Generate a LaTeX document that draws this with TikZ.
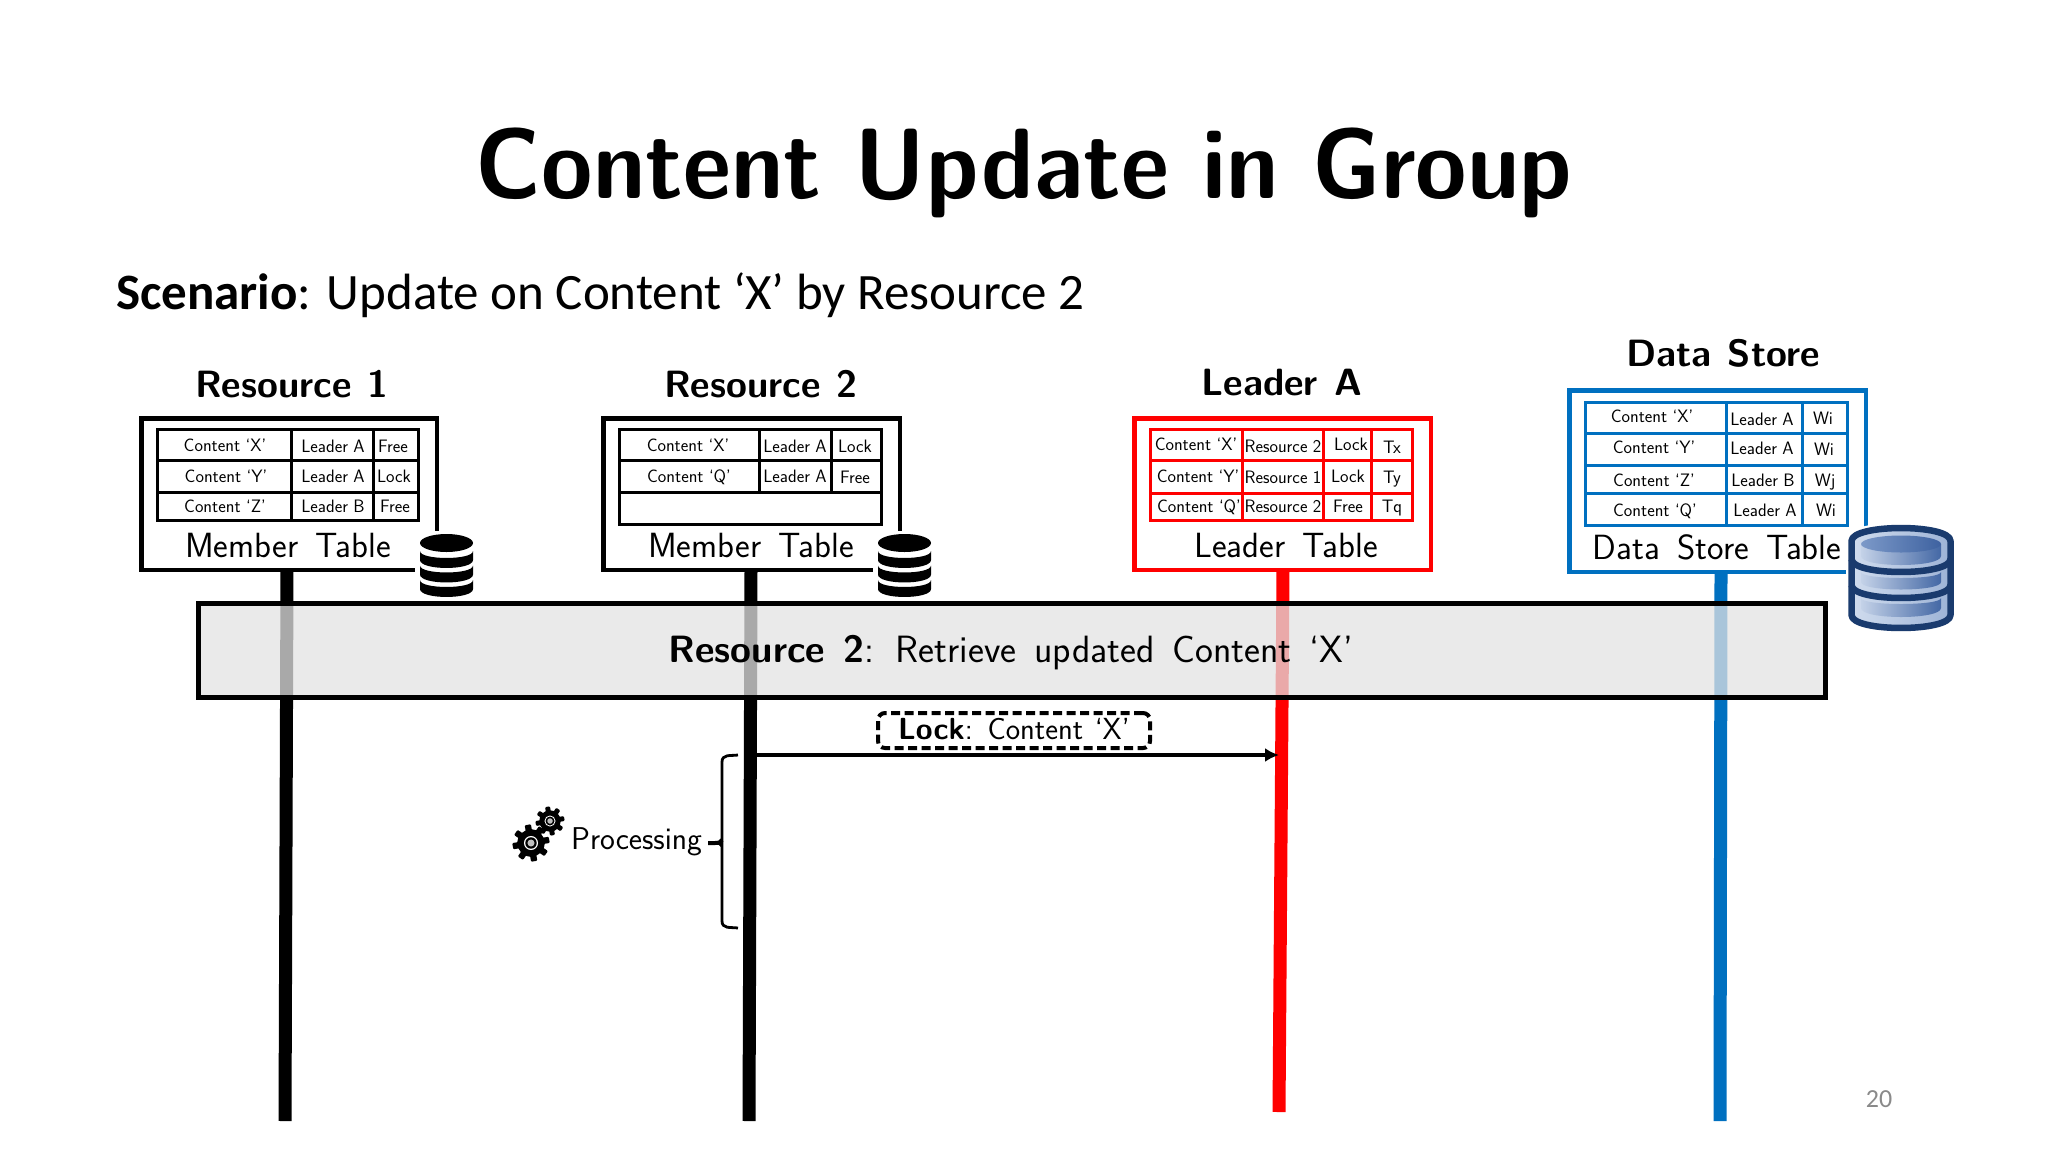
\documentclass[tikz,border=0pt]{standalone}
\usepackage{fontspec}
\usepackage{graphicx}
\newfontfamily\carlito{Carlito}
\usetikzlibrary{arrows.meta}
\definecolor{rblue}{HTML}{0070C0}
\definecolor{navy}{HTML}{1A3B6E}
\definecolor{bandgray}{RGB}{227,227,227}
\definecolor{rimL}{HTML}{D0DCEE}
\definecolor{rimR}{HTML}{9DB3D6}
\definecolor{panL}{HTML}{C4D2E8}
\definecolor{panR}{HTML}{4468A5}
\definecolor{discL}{HTML}{7C99C8}
\definecolor{discR}{HTML}{3E62A0}
\newcommand\sz[2]{\fontsize{#1}{#1}\selectfont\spaceskip=#2em\relax}
\tikzset{
  x=1pt,y=-1pt,
  txt/.style={anchor=base,inner sep=0pt,outer sep=0pt},
  headtxt/.style={txt,font=\sffamily\bfseries\sz{38}{.43}},
  tabletxt/.style={txt,font=\sffamily\sz{35}{.5}},
  celltxt/.style={txt,font=\sffamily\sz{18}{.3}},
  bigbox/.style={draw=#1,line width=4.5pt,fill=white,inner sep=0pt,outer sep=0pt},
  grid/.style={draw=#1,line width=3pt},
  life/.style={draw=#1,line width=13pt},
}
\newcommand\dbblack[1]{%
  \begin{scope}[shift={(#1,0)}]
    \fill[white,rounded corners=6pt] (-31.5,531) rectangle (31.5,600);
    \fill (0,543) ellipse [x radius=26.5,y radius=9];
    \foreach \k in {0,14.5,29}{
      \begin{scope}[shift={(0,\k)}]
        \fill (-26.5,551) .. controls (-26.5,560.3) and (26.5,560.3) .. (26.5,551) -- (26.5,560) .. controls (26.5,570.6) and (-26.5,570.6) .. (-26.5,560) -- cycle;
      \end{scope}
    }
  \end{scope}}
\newcommand\gear[3]{%
  \begin{scope}[shift={(#1,#2)}]
    \fill (0,0) circle [radius=#3*0.74];
    \foreach \a in {0,45,...,315}{
      \fill[rotate=\a+10,rounded corners=1pt] (-#3*0.17,0) rectangle (#3*0.17,#3);
    }
    \fill[white] (0,0) circle [radius=#3*0.38];
    \fill (0,0) circle [radius=#3*0.31];
    \fill[white!75!black] (0,0) circle [radius=#3*0.19];
  \end{scope}}
\begin{document}
\begin{tikzpicture}
\useasboundingbox (0,0) rectangle (2048,1152);
\fill[white] (0,0) rectangle (2048,1152);

% headings
\node[txt,font=\sffamily\bfseries\sz{100}{.36}] (title) at (1024,198) {\scalebox{.935}[1]{Content Update in Group}};
\node[anchor=base west,inner sep=0pt,font=\carlito\fontsize{51}{51}\selectfont] (scen) at (116,309) {\textbf{Scenario}: Update on Content ‘X’ by Resource 2};
\node[headtxt] (h1) at (292,397) {Resource 1};
\node[headtxt] (h2) at (761,397) {Resource 2};
\node[headtxt] (h3) at (1282,395) {Leader A};
\node[headtxt] (h4) at (1723,366) {Data Store};

% lifelines
\coordinate (l1t) at (287,570); \coordinate (l1b) at (285,1121);
\coordinate (l2t) at (751,570); \coordinate (l2b) at (749,1121);
\coordinate (l3t) at (1283,570); \coordinate (l3b) at (1279,1112);
\coordinate (l4t) at (1721,572); \coordinate (l4b) at (1720,1121);
\draw[life=black] (l1t) -- (l1b);
\draw[life=black] (l2t) -- (l2b);
\draw[life=red] (l3t) -- (l3b);
\draw[life=rblue] (l4t) -- (l4b);

% boxes
\node[bigbox=black,minimum width=295.5pt,minimum height=151.5pt] (r1) at (289,494) {};
\node[bigbox=black,minimum width=296.5pt,minimum height=151.5pt] (r2) at (751.5,494) {};
\node[bigbox=red,minimum width=296.5pt,minimum height=151.5pt] (la) at (1282.5,494) {};
\node[bigbox=rblue,minimum width=296.5pt,minimum height=181.5pt] (ds) at (1717.5,481) {};

% table Resource 1
\draw[grid=black] (157.5,429.5) rectangle (418.5,520.5);
\draw[grid=black] (157.5,460) -- (418.5,460) (157.5,492) -- (418.5,492) (291,429.5) -- (291,520.5) (373,429.5) -- (373,520.5);
\node[celltxt] (a1) at (225,451) {Content ‘X’};
\node[celltxt] (a2) at (226,482) {Content ‘Y’};
\node[celltxt] (a3) at (225,512) {Content ‘Z’};
\node[celltxt] (a4) at (333,452) {Leader A};
\node[celltxt] (a5) at (333,482) {Leader A};
\node[celltxt] (a6) at (333,512) {Leader B};
\node[celltxt] (a7) at (393,452) {Free};
\node[celltxt] (a8) at (394,482) {Lock};
\node[celltxt] (a9) at (395,512) {Free};
\node[tabletxt] (t1) at (288,557) {Member Table};

% table Resource 2
\draw[grid=black] (619.5,429.5) rectangle (881,524);
\draw[grid=black] (619.5,460) -- (881,460) (619.5,492) -- (881,492) (759,429.5) -- (759,492) (831,429.5) -- (831,492);
\node[celltxt] (b1) at (688,451) {Content ‘X’};
\node[celltxt] (b2) at (689,482) {Content ‘Q’};
\node[celltxt] (b3) at (795,452) {Leader A};
\node[celltxt] (b4) at (795,482) {Leader A};
\node[celltxt] (b5) at (855,452) {Lock};
\node[celltxt] (b6) at (855,483) {Free};
\node[tabletxt] (t2) at (751,557) {Member Table};

% table Leader A
\draw[grid=red] (1150.5,429.5) rectangle (1412,520.5);
\draw[grid=red] (1150.5,460) -- (1412,460) (1150.5,493) -- (1412,493) (1242,429.5) -- (1242,520.5) (1323,429.5) -- (1323,520.5) (1371,429.5) -- (1371,520.5);
\node[celltxt] (c1) at (1196,450) {Content ‘X’};
\node[celltxt] (c2) at (1198,482) {Content ‘Y’};
\node[celltxt] (c3) at (1199,512) {Content ‘Q’};
\node[celltxt] (c4) at (1283,452) {Resource 2};
\node[celltxt] (c5) at (1283,483) {Resource 1};
\node[celltxt] (c6) at (1283,512) {Resource 2};
\node[celltxt] (c7) at (1351,450) {Lock};
\node[celltxt] (c8) at (1348,482) {Lock};
\node[celltxt] (c9) at (1348,512) {Free};
\node[celltxt] (c10) at (1392,453) {Tx};
\node[celltxt] (c11) at (1392,483) {Ty};
\node[celltxt] (c12) at (1392,512) {Tq};
\node[tabletxt] (t3) at (1286,557) {Leader Table};

% table Data Store
\draw[grid=rblue] (1585.5,402.5) rectangle (1847,525.5);
\draw[grid=rblue] (1585.5,433) -- (1847,433) (1585.5,465) -- (1847,465) (1585.5,493) -- (1847,493) (1726,402.5) -- (1726,525.5) (1802,402.5) -- (1802,525.5);
\node[celltxt] (d1) at (1652,422) {Content ‘X’};
\node[celltxt] (d2) at (1654,453) {Content ‘Y’};
\node[celltxt] (d3) at (1654,486) {Content ‘Z’};
\node[celltxt] (d4) at (1655,516) {Content ‘Q’};
\node[celltxt] (d5) at (1762,425) {Leader A};
\node[celltxt] (d6) at (1762,454) {Leader A};
\node[celltxt] (d7) at (1763,486) {Leader B};
\node[celltxt] (d8) at (1765,516) {Leader A};
\node[celltxt] (d9) at (1823,424) {Wi};
\node[celltxt] (d10) at (1824,455) {Wi};
\node[celltxt] (d11) at (1825,486) {Wj};
\node[celltxt] (d12) at (1826,516) {Wi};
\node[tabletxt] (t4) at (1717,559) {Data Store Table};

% band
\fill[bandgray,fill opacity=.745] (198,603) rectangle (1825,697.5);
\node[draw=black,line width=5pt,inner sep=0pt,outer sep=0pt,minimum width=1627pt,minimum height=94.5pt] (band) at (1011.5,650.25) {};
\node[txt,font=\sffamily\sz{38}{.47}] (bandtxt) at (1011,662) {\textbf{Resource 2}: Retrieve updated Content ‘X’};

% database icons
\dbblack{446.5}
\dbblack{904.5}
\begin{scope}[shift={(1901,0)}]
  \draw[white,line width=11pt] (-49.5,541) .. controls (-49.5,523.7) and (49.5,523.7) .. (49.5,541) -- (49.5,615) .. controls (49.5,632.3) and (-49.5,632.3) .. (-49.5,615) -- cycle;
  \shade[left color=rimL,right color=rimR] (-49.5,541) .. controls (-49.5,523.7) and (49.5,523.7) .. (49.5,541) -- (49.5,615) .. controls (49.5,632.3) and (-49.5,632.3) .. (-49.5,615) -- cycle;
  \shade[left color=panL,right color=panR] (-40,544) -- (40,544) -- (40,556) .. controls (40,568) and (-40,568) .. (-40,556) -- cycle;
  \shade[left color=panL,right color=panR] (-40,572) .. controls (-40,580) and (40,580) .. (40,572) -- (40,582) .. controls (40,592) and (-40,592) .. (-40,582) -- cycle;
  \shade[left color=panL,right color=panR] (-40,598) .. controls (-40,606) and (40,606) .. (40,598) -- (40,608) .. controls (40,620) and (-40,620) .. (-40,608) -- cycle;
  \shade[left color=discL,right color=discR] (0,544) ellipse [x radius=40,y radius=8.5];
  \draw[navy,line width=6.5pt,line join=round] (-49.5,541) .. controls (-49.5,523.7) and (49.5,523.7) .. (49.5,541) -- (49.5,615) .. controls (49.5,632.3) and (-49.5,632.3) .. (-49.5,615) -- cycle;
  \draw[navy,line width=6.5pt] (-49.5,559) .. controls (-49.5,576.3) and (49.5,576.3) .. (49.5,559);
  \draw[navy,line width=6.5pt] (-49.5,585) .. controls (-49.5,602.3) and (49.5,602.3) .. (49.5,585);
\end{scope}

% message
\coordinate (msgs) at (756,755);
\coordinate (msge) at (1279,755);
\draw[line width=4.5pt,-{Latex[length=14pt,width=14pt]}] (msgs) -- (msge);
\node[draw=black,line width=4pt,dash pattern=on 9pt off 4.5pt,rounded corners=7pt,inner sep=0pt,minimum width=272pt,minimum height=35pt] (lockbox) at (1014,730.5) {};
\node[txt,font=\sffamily\sz{30.5}{.38}] (locktxt) at (1014,739.5) {\textbf{Lock}: Content ‘X’};

% processing
\draw[line width=2.8pt] (738,755) .. controls (730,756) and (722,754) .. (722,762) -- (722,921) .. controls (722,929) and (730,927) .. (738,928);
\draw[line width=4pt] (708,843) -- (715,843) .. controls (719,843) and (721,842) .. (722,840);
\draw[line width=2.8pt] (715,843) .. controls (719,843) and (721,844) .. (722,846);
\gear{550}{821}{14.5}
\gear{531}{843}{18.5}
\node[anchor=base west,inner sep=0pt,font=\sffamily\sz{31.5}{.3}] (proc) at (571,849) {Processing};

% page number
\node[inner sep=0pt,font=\carlito\fontsize{26}{26}\selectfont,text=black!46] (page) at (1879,1099) {20};
\end{tikzpicture}
\end{document}
